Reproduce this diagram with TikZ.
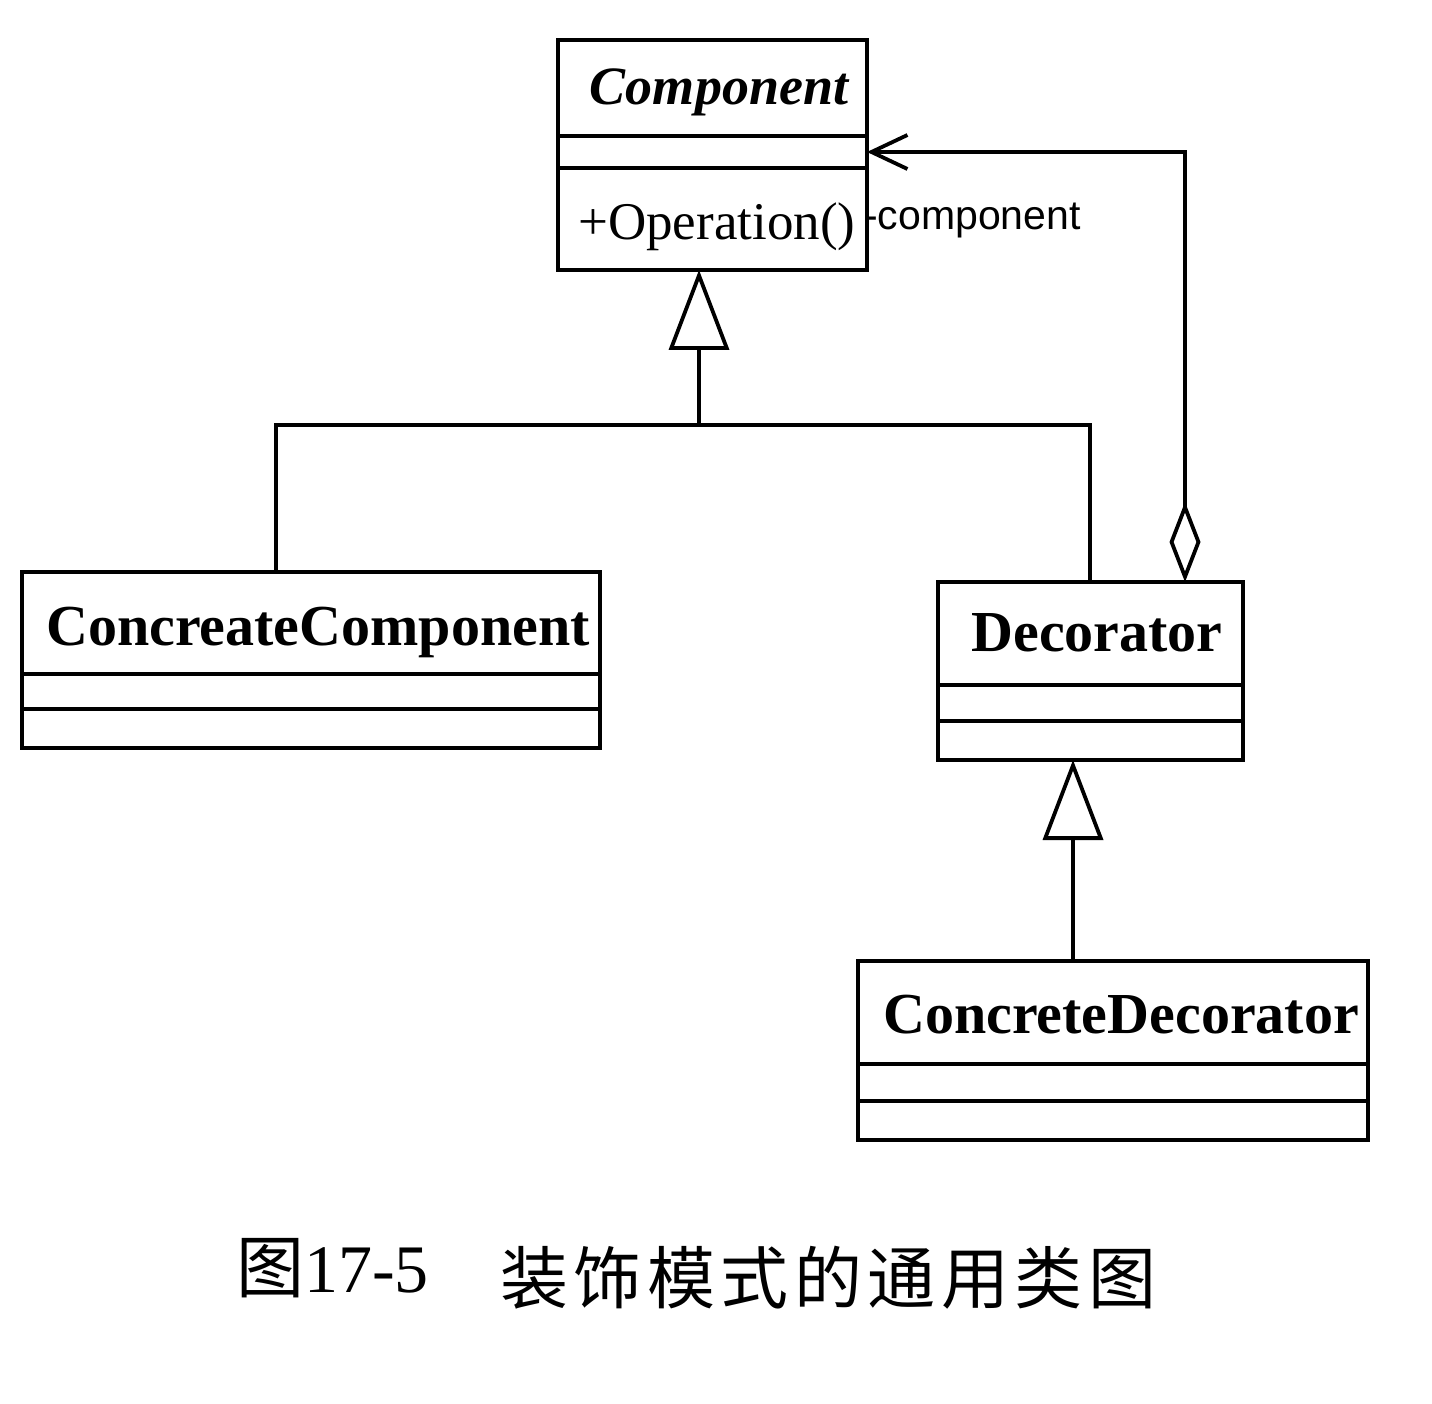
\documentclass[tikz,border=0pt]{standalone}
\usepackage{fontspec}
\setmainfont{Liberation Serif}
\newfontfamily\sansf{Liberation Sans}
\newfontfamily\cjk{Noto Sans CJK SC}
\usetikzlibrary{arrows.meta}
\newcommand{\cg}{\hspace{5.5pt}}
\begin{document}
\begin{tikzpicture}[x=1pt,y=-1pt,
  cls/.style={draw,line width=3.8pt,inner sep=0pt,outer sep=0pt},
  ln/.style={line width=3.8pt},
  gen/.style={ln,-{Triangle[open,length=80pt,width=60pt]}},
  title/.style={inner sep=0pt,anchor=base,font=\bfseries\fontsize{58}{64}\selectfont},
  txt/.style={inner sep=0pt,anchor=base west},
]
\useasboundingbox[fill=white] (0,0) rectangle (1432,1404);

% class boxes
\node[cls,minimum width=309pt,minimum height=230pt] (comp) at (712.5,155) {};
\node[cls,minimum width=578pt,minimum height=176pt] (cc) at (311,660) {};
\node[cls,minimum width=305pt,minimum height=178pt] (dec) at (1090.5,671) {};
\node[cls,minimum width=510pt,minimum height=179pt] (cd) at (1113,1050.5) {};

% compartments
\draw[ln] (comp.west |- 0,136) -- (comp.east |- 0,136);
\draw[ln] (comp.west |- 0,168) -- (comp.east |- 0,168);
\draw[ln] (cc.west |- 0,674) -- (cc.east |- 0,674);
\draw[ln] (cc.west |- 0,709) -- (cc.east |- 0,709);
\draw[ln] (dec.west |- 0,685) -- (dec.east |- 0,685);
\draw[ln] (dec.west |- 0,721) -- (dec.east |- 0,721);
\draw[ln] (cd.west |- 0,1064) -- (cd.east |- 0,1064);
\draw[ln] (cd.west |- 0,1101) -- (cd.east |- 0,1101);

% texts
\node[title,font=\bfseries\itshape\fontsize{54}{60}\selectfont] (tcomp) at (719,105) {Component};
\node[txt,font=\fontsize{53}{58}\selectfont] (top) at (578,240) {+Operation()};
\node[txt,font=\sansf\fontsize{41}{45}\selectfont] (role) at (864,230) {-component};
\node[title] (tcc) at (318,645) {ConcreateComponent};
\node[title] (tdec) at (1097,651) {Decorator};
\node[title] (tcd) at (1121,1033) {ConcreteDecorator};

% generalization to Component
\coordinate (j1) at (699,425);
\coordinate (jl) at (276,425);
\coordinate (jr) at (1090,425);
\draw[gen] (j1) -- (comp.south -| j1);
\draw[ln] (cc.north -| jl) -- (jl) -- (jr) -- (dec.north -| jr);

% generalization to Decorator
\coordinate (j2) at (1073,900);
\draw[gen] (cd.north -| j2) -- (dec.south -| j2);

% aggregation
\coordinate (ax) at (1185,152);
\draw[ln,line join=miter,{Diamond[open,length=80pt,width=31pt]}-{Straight Barb[length=36pt,width=34pt]}]
  (dec.north -| ax) -- (ax) -- (comp.east |- ax);

% caption
\node[txt,font=\fontsize{68}{72}\selectfont] (cap1) at (236,1292) {{\cjk 图}17-5};
\node[txt,font=\cjk\fontsize{68}{72}\selectfont] (cap2) at (500,1303)
  {装\cg 饰\cg 模\cg 式\cg 的\cg 通\cg 用\cg 类\cg 图};
\end{tikzpicture}
\end{document}
